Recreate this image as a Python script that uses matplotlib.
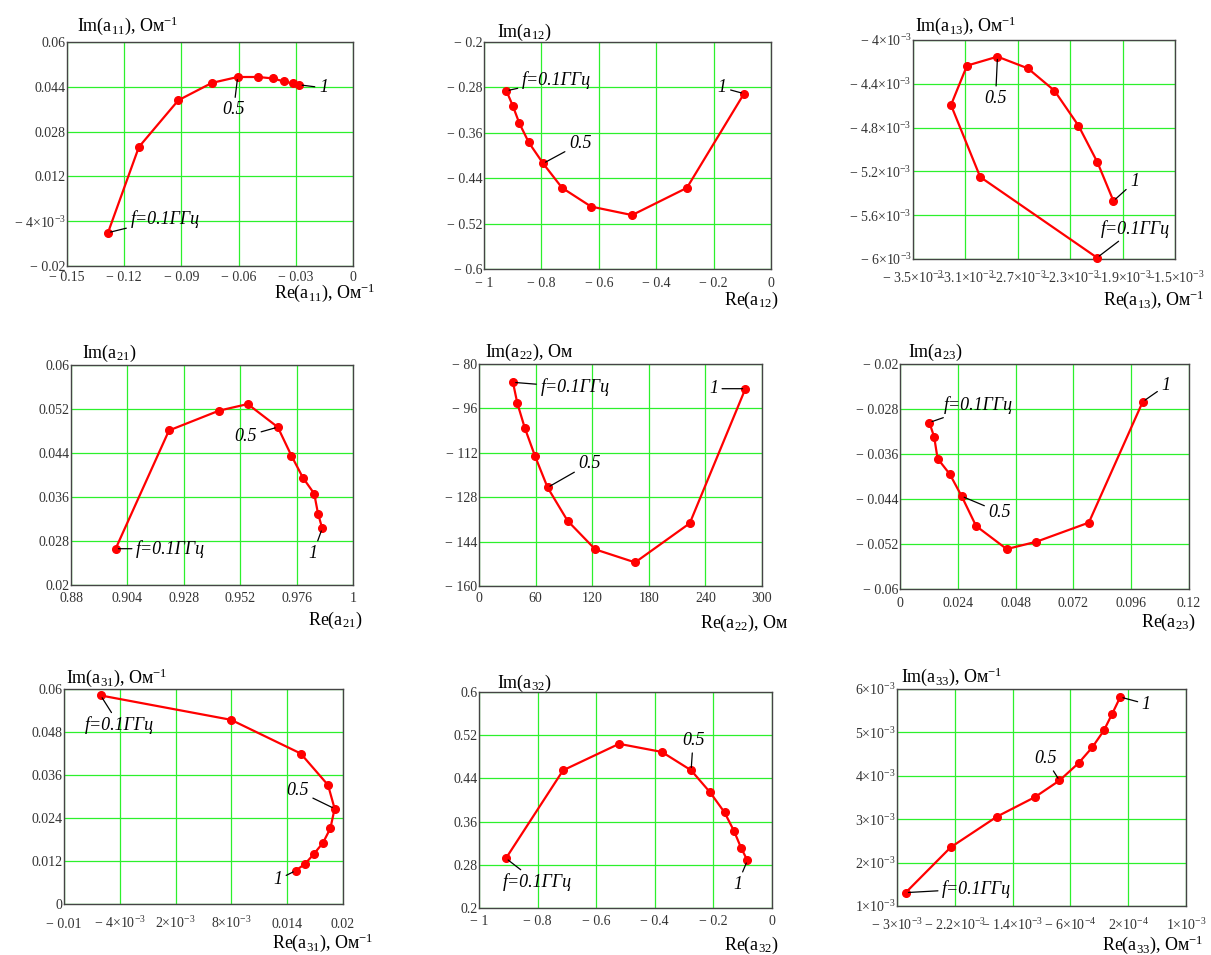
import matplotlib
matplotlib.use("Agg")
import matplotlib.pyplot as plt

plt.rcParams["font.family"] = ["Liberation Serif", "DejaVu Serif"]
plt.rcParams["mathtext.fontset"] = "custom"
plt.rcParams["mathtext.rm"] = "Liberation Serif"
plt.rcParams["mathtext.it"] = "Liberation Serif:italic"
plt.rcParams["mathtext.bf"] = "Liberation Serif:bold"

M = "\u2212 "  # mathcad-style minus

# ── data: f = 0.1 ... 1 GHz, 10 points per curve ─────────────────────
a11_re = [-0.1285, -0.1123, -0.0916, -0.0740, -0.0605, -0.0497, -0.0422, -0.0361, -0.0316, -0.0281]
a11_im = [-0.0081, 0.0225, 0.0392, 0.0454, 0.0475, 0.0475, 0.0470, 0.0459, 0.0452, 0.0447]

a12_re = [-0.922, -0.900, -0.877, -0.844, -0.794, -0.728, -0.627, -0.484, -0.293, -0.094]
a12_im = [-0.286, -0.312, -0.343, -0.377, -0.414, -0.457, -0.490, -0.505, -0.457, -0.291]

a13_re = [-2.095e-3, -2.987e-3, -3.210e-3, -3.088e-3, -2.855e-3, -2.623e-3, -2.420e-3, -2.237e-3, -2.092e-3, -1.970e-3]
a13_im = [-5.988e-3, -5.251e-3, -4.594e-3, -4.234e-3, -4.152e-3, -4.259e-3, -4.463e-3, -4.782e-3, -5.117e-3, -5.470e-3]

a21_re = [0.8990, 0.9217, 0.9430, 0.9552, 0.9680, 0.9738, 0.9787, 0.9835, 0.9851, 0.9869]
a21_im = [0.0266, 0.0481, 0.0517, 0.0529, 0.0487, 0.0435, 0.0395, 0.0366, 0.0330, 0.0303]

a22_re = [36.0, 40.6, 48.4, 59.3, 72.7, 93.9, 123.2, 165.5, 223.4, 282.4]
a22_im = [-86.6, -94.1, -102.9, -113.1, -124.5, -136.5, -146.8, -151.5, -137.4, -88.9]

a23_re = [0.0122, 0.0142, 0.0156, 0.0207, 0.0256, 0.0316, 0.0443, 0.0566, 0.0784, 0.1008]
a23_im = [-0.0304, -0.0330, -0.0368, -0.0396, -0.0435, -0.0488, -0.0529, -0.0516, -0.0482, -0.0267]

a31_re = [-0.00606, 0.00796, 0.01545, 0.01839, 0.0191, 0.01864, 0.01785, 0.01685, 0.01592, 0.01491]
a31_im = [0.0582, 0.0514, 0.0420, 0.0332, 0.0266, 0.0211, 0.0171, 0.0139, 0.0112, 0.0093]

a32_re = [-0.908, -0.713, -0.522, -0.376, -0.276, -0.211, -0.162, -0.130, -0.106, -0.084]
a32_im = [0.292, 0.455, 0.504, 0.489, 0.455, 0.414, 0.377, 0.343, 0.312, 0.288]

a33_re = [-2.88e-3, -2.256e-3, -1.614e-3, -1.092e-3, -0.751e-3, -0.487e-3, -0.298e-3, -0.136e-3, -0.021e-3, 0.090e-3]
a33_im = [1.308e-3, 2.354e-3, 3.062e-3, 3.508e-3, 3.892e-3, 4.292e-3, 4.654e-3, 5.046e-3, 5.431e-3, 5.815e-3]

# ── ticks and tick labels ────────────────────────────────────────────
e3 = "×10$^{-3}$"
e4 = "×10$^{-4}$"

x11 = [-0.15, -0.12, -0.09, -0.06, -0.03, 0]
x11_lab = [M + "0.15", M + "0.12", M + "0.09", M + "0.06", M + "0.03", "0"]
y11 = [-0.02, -0.004, 0.012, 0.028, 0.044, 0.06]
y11_lab = [M + "0.02", M + "4" + e3, "0.012", "0.028", "0.044", "0.06"]

x12 = [-1, -0.8, -0.6, -0.4, -0.2, 0]
x12_lab = [M + "1", M + "0.8", M + "0.6", M + "0.4", M + "0.2", "0"]
y12 = [-0.6, -0.52, -0.44, -0.36, -0.28, -0.2]
y12_lab = [M + "0.6", M + "0.52", M + "0.44", M + "0.36", M + "0.28", M + "0.2"]

x13 = [-3.5e-3, -3.1e-3, -2.7e-3, -2.3e-3, -1.9e-3, -1.5e-3]
x13_lab = [M + "3.5" + e3, "\u22123.1" + e3, "\u22122.7" + e3, "\u22122.3" + e3, "\u22121.9" + e3, "\u22121.5" + e3]
y13 = [-6e-3, -5.6e-3, -5.2e-3, -4.8e-3, -4.4e-3, -4e-3]
y13_lab = [M + "6" + e3, M + "5.6" + e3, M + "5.2" + e3, M + "4.8" + e3, M + "4.4" + e3, M + "4" + e3]

x21 = [0.88, 0.904, 0.928, 0.952, 0.976, 1.0]
x21_lab = ["0.88", "0.904", "0.928", "0.952", "0.976", "1"]
y21 = [0.02, 0.028, 0.036, 0.044, 0.052, 0.06]
y21_lab = ["0.02", "0.028", "0.036", "0.044", "0.052", "0.06"]

x22 = [0, 60, 120, 180, 240, 300]
x22_lab = ["0", "60", "120", "180", "240", "300"]
y22 = [-160, -144, -128, -112, -96, -80]
y22_lab = [M + "160", M + "144", M + "128", M + "112", M + "96", M + "80"]

x23 = [0, 0.024, 0.048, 0.072, 0.096, 0.12]
x23_lab = ["0", "0.024", "0.048", "0.072", "0.096", "0.12"]
y23 = [-0.06, -0.052, -0.044, -0.036, -0.028, -0.02]
y23_lab = [M + "0.06", M + "0.052", M + "0.044", M + "0.036", M + "0.028", M + "0.02"]

x31 = [-0.01, -0.004, 0.002, 0.008, 0.014, 0.02]
x31_lab = [M + "0.01", M + "4" + e3, "2" + e3, "8" + e3, "0.014", "0.02"]
y31 = [0, 0.012, 0.024, 0.036, 0.048, 0.06]
y31_lab = ["0", "0.012", "0.024", "0.036", "0.048", "0.06"]

x32 = [-1, -0.8, -0.6, -0.4, -0.2, 0]
x32_lab = [M + "1", M + "0.8", M + "0.6", M + "0.4", M + "0.2", "0"]
y32 = [0.2, 0.28, 0.36, 0.44, 0.52, 0.6]
y32_lab = ["0.2", "0.28", "0.36", "0.44", "0.52", "0.6"]

x33 = [-3e-3, -2.2e-3, -1.4e-3, -6e-4, 2e-4, 1e-3]
x33_lab = [M + "3" + e3, M + "2.2" + e3, M + "1.4" + e3, M + "6" + e4, "2" + e4, "1" + e3]
y33 = [1e-3, 2e-3, 3e-3, 4e-3, 5e-3, 6e-3]
y33_lab = ["1" + e3, "2" + e3, "3" + e3, "4" + e3, "5" + e3, "6" + e3]

OHM1 = ", Ом$^{-1}$"

W, H = 1211, 955
fig = plt.figure(figsize=(W / 100, H / 100), dpi=100)


def panel(box, re, im, xt, xl, yt, yl, name, unit, xpad, ylab_off, xlab_off, notes):
    x0, y0, x1, y1 = box
    ax = fig.add_axes([x0 / W, 1 - y1 / H, (x1 - x0) / W, (y1 - y0) / H])
    ax.plot(re, im, color="#ff0000", lw=1.6, marker="o", ms=5.5,
            mec="#ff0000", mfc="#ff0000", zorder=3, clip_on=False)
    ax.set_xlim(xt[0], xt[-1])
    ax.set_ylim(yt[0], yt[-1])
    ax.set_xticks(xt, xl)
    ax.set_yticks(yt, yl)
    ax.tick_params(length=0, labelsize=10, labelcolor="#333333")
    # baseline-aligned x labels, so plain and 10^n labels sit on one line
    ax.tick_params(axis="x", pad=xpad)
    plt.setp(ax.get_xticklabels(), va="baseline")
    ax.tick_params(axis="y", pad=1)
    ax.grid(True, color="#2cf02c", lw=0.9)
    for s in ax.spines.values():
        s.set_color("#444444")
        s.set_linewidth(1.0)

    ax.annotate("Im(a$_{%s}$)%s" % (name, unit), xy=(0, 1), xycoords="axes fraction",
                xytext=ylab_off, textcoords="offset pixels",
                ha="left", va="center", fontsize=13)
    ax.annotate("Re(a$_{%s}$)%s" % (name, unit), xy=(1, 0), xycoords="axes fraction",
                xytext=xlab_off, textcoords="offset pixels",
                ha="right", va="center", fontsize=13)

    for idx, text, off in notes:
        ax.annotate(text, xy=(re[idx], im[idx]), xytext=off, textcoords="offset pixels",
                    ha="center", va="center", fontsize=13, style="italic",
                    arrowprops=dict(arrowstyle="-", color="black", lw=0.9,
                                    shrinkA=1, shrinkB=2))
    return ax


F = "f=0.1ГГц"

panel((67, 42, 353, 266), a11_re, a11_im, x11, x11_lab, y11, y11_lab, "11", OHM1, 11.0,
      (10, 16), (22, -27), [(0, F, (57, 14)), (4, "0.5", (-4, -33)), (9, "1", (24, -3))])
panel((484, 42, 771, 269), a12_re, a12_im, x12, x12_lab, y12, y12_lab, "12", "", 13.0,
      (13, 10), (7, -31), [(0, F, (50, 11)), (4, "0.5", (37, 20)), (9, "1", (-22, 6))])
panel((913, 40, 1175, 259), a13_re, a13_im, x13, x13_lab, y13, y13_lab, "13", OHM1, 17,
      (2, 14), (29, -41), [(0, F, (38, 29)), (4, "0.5", (-2, -42)), (9, "1", (21, 19))])

panel((71, 365, 353, 585), a21_re, a21_im, x21, x21_lab, y21, y21_lab, "21", "", 12,
      (11, 12), (9, -35), [(0, F, (55, 0)), (4, "0.5", (-32, -9)), (9, "1", (-9, -25))])
panel((479, 364, 762, 586), a22_re, a22_im, x22, x22_lab, y22, y22_lab, "22", ", Ом", 11.5,
      (6, 12), (26, -37), [(0, F, (62, -5)), (4, "0.5", (42, 24)), (9, "1", (-32, 0))])
panel((900, 364, 1189, 589), a23_re, a23_im, x23, x23_lab, y23, y23_lab, "23", "", 12.6,
      (8, 12), (6, -33), [(0, F, (49, 17)), (4, "0.5", (38, -16)), (9, "1", (23, 16))])

panel((64, 689, 343, 904), a31_re, a31_im, x31, x31_lab, y31, y31_lab, "31", OHM1, 17,
      (2, 11), (30, -39), [(0, F, (19, -30)), (4, "0.5", (-37, 18)), (9, "1", (-18, -9))])
panel((479, 692, 772, 908), a32_re, a32_im, x32, x32_lab, y32, y32_lab, "32", "", 12,
      (18, 9), (6, -37), [(0, F, (31, -24)), (4, "0.5", (2, 30)), (9, "1", (-10, -24))])
panel((897, 689, 1186, 906), a33_re, a33_im, x33, x33_lab, y33, y33_lab, "33", OHM1, 17,
      (4, 12), (17, -39), [(0, F, (71, 4)), (4, "0.5", (-14, 22)), (9, "1", (26, -7))])

fig.savefig("out.png", dpi=100)
